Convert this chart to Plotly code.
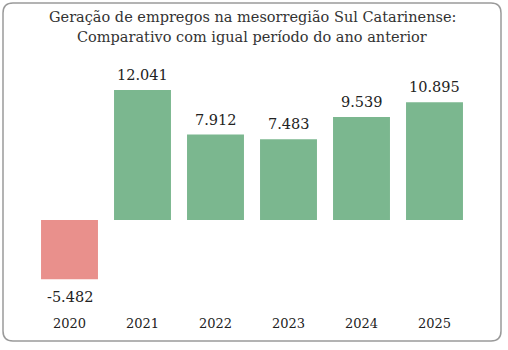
import plotly.graph_objects as go

years = ["2020", "2021", "2022", "2023", "2024", "2025"]
values = [-5482, 12041, 7912, 7483, 9539, 10895]
title_lines = ["Geração de empregos na mesorregião Sul Catarinense:",
               "Comparativo com igual período do ano anterior"]

GREEN = "#7bb78f"
RED = "#e9908c"
FONT = "DejaVu Serif, Georgia, serif"

def fmt(v):
    s = f"{abs(v):,}".replace(",", ".")
    return ("-" if v < 0 else "") + s

colors = [RED if v < 0 else GREEN for v in values]
xs = list(range(len(years)))

W, H = 508, 350
ml, mr, mt, mb = 33, 37, 70, 39
pw, ph = W - ml - mr, H - mt - mb

fig = go.Figure(go.Bar(x=xs, y=values, width=0.78,
                       marker=dict(color=colors, line=dict(width=0)),
                       hoverinfo="skip"))

for xi, v in zip(xs, values):
    fig.add_annotation(x=xi, y=v, text=fmt(v), showarrow=False,
                       yanchor="bottom" if v >= 0 else "top",
                       yshift=5 if v >= 0 else -8,
                       font=dict(family=FONT, size=14.5, color="#222"))

def px2x(p): return (p - ml) / pw
def py2y(p): return (H - mb - p) / ph

for i, line in enumerate(title_lines):
    fig.add_annotation(x=0.5, xref="paper", y=py2y(17 + 20 * i), yref="paper",
                       text=line, showarrow=False, xanchor="center", yanchor="middle",
                       font=dict(family=FONT, size=14.5, color="#333"))

x0, x1, y0, y1, r = 3, 501, 3, 341, 10
path = (f"M {px2x(x0+r)},{py2y(y0)} L {px2x(x1-r)},{py2y(y0)} "
        f"Q {px2x(x1)},{py2y(y0)} {px2x(x1)},{py2y(y0+r)} "
        f"L {px2x(x1)},{py2y(y1-r)} Q {px2x(x1)},{py2y(y1)} {px2x(x1-r)},{py2y(y1)} "
        f"L {px2x(x0+r)},{py2y(y1)} Q {px2x(x0)},{py2y(y1)} {px2x(x0)},{py2y(y1-r)} "
        f"L {px2x(x0)},{py2y(y0+r)} Q {px2x(x0)},{py2y(y0)} {px2x(x0+r)},{py2y(y0)} Z")
fig.add_shape(type="path", path=path, xref="paper", yref="paper",
              line=dict(color="#9a9a9a", width=1.5), layer="below")

fig.update_layout(
    width=W, height=H,
    margin=dict(l=ml, r=mr, t=mt, b=mb),
    paper_bgcolor="white", plot_bgcolor="white",
    showlegend=False,
    xaxis=dict(range=[-0.5, len(years) - 0.5], tickmode="array", tickvals=xs, ticktext=years,
               showgrid=False, zeroline=False, showline=False, ticks="",
               ticklabelstandoff=3,
               tickfont=dict(family=FONT, size=13, color="#222")),
    yaxis=dict(range=[-(H - mb - 220) / 0.0108, (220 - mt) / 0.0108],
               showgrid=False, zeroline=False, showticklabels=False, showline=False),
)

fig.write_html("out.html")
